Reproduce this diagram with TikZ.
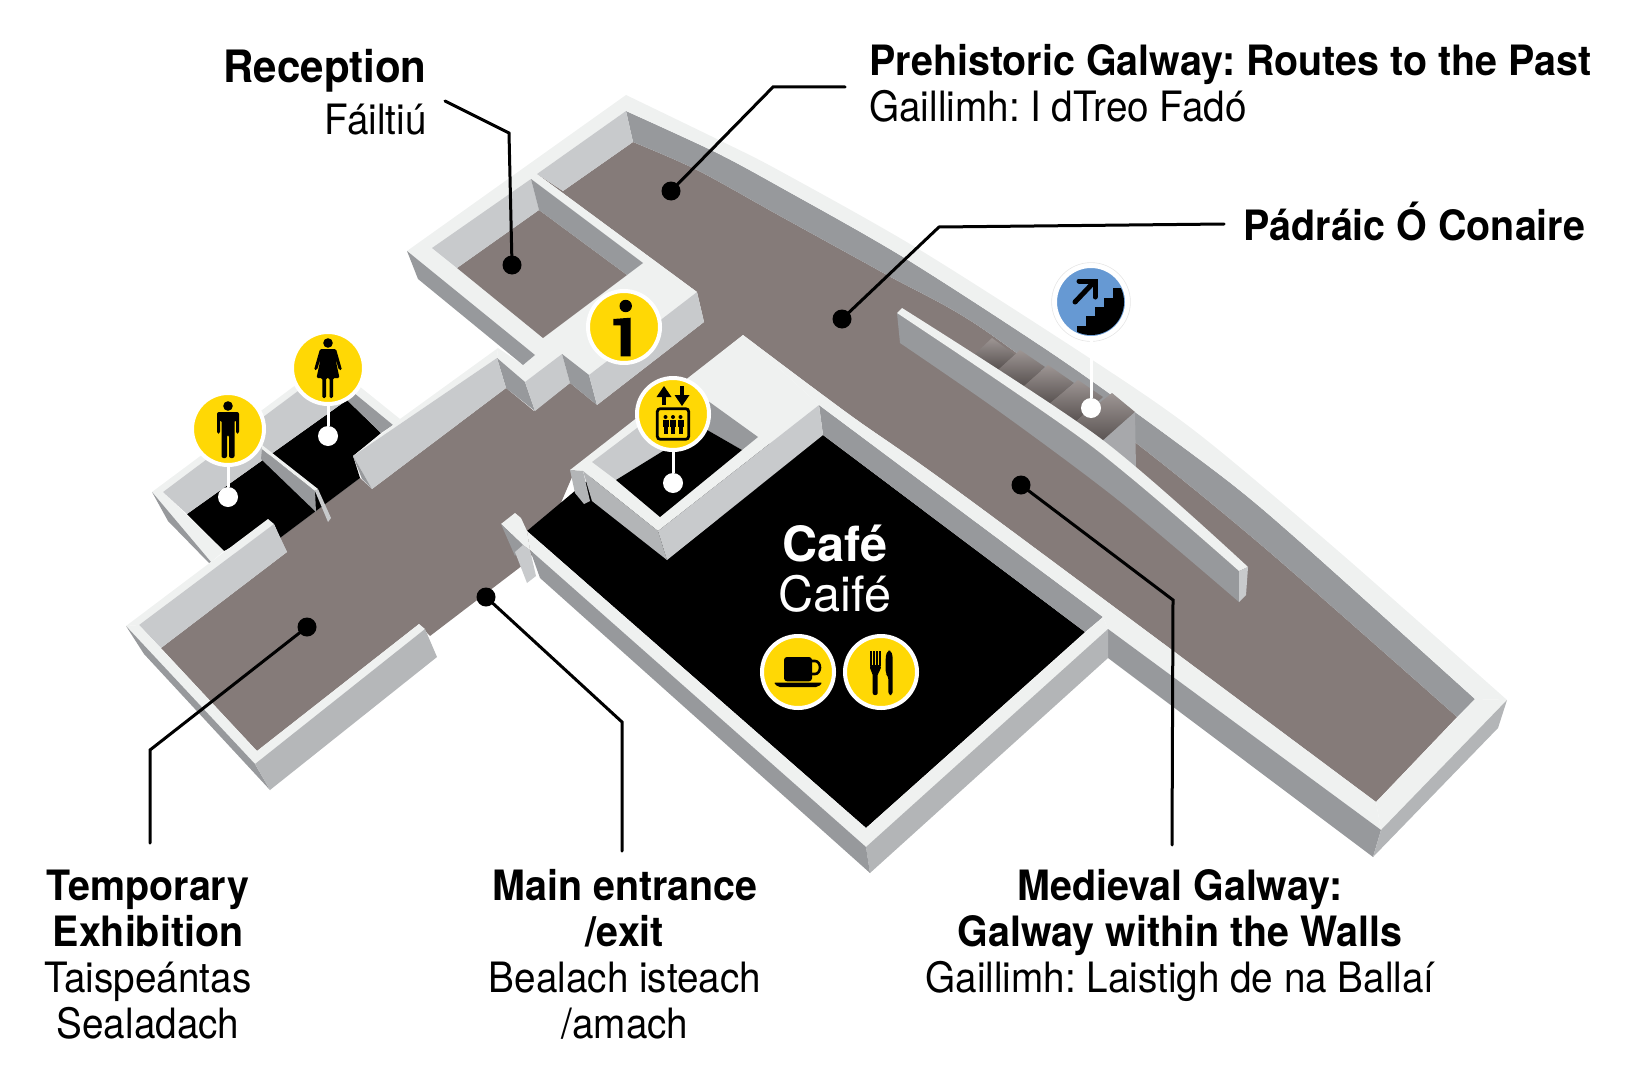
\documentclass[tikz,border=0pt]{standalone}
\usepackage{xcolor}
\usepackage{fontspec}
\setmainfont[FakeStretch=0.925, BoldFeatures={FakeStretch=0.943}]{TeX Gyre Heros}
\newfontfamily\cafefont{TeX Gyre Heros}
\definecolor{floorc}{HTML}{857B79}
\definecolor{topc}{HTML}{EFF1F0}
\definecolor{lightc}{HTML}{C8CACC}
\definecolor{darkc}{HTML}{97999C}
\definecolor{midc}{HTML}{B3B5B7}
\definecolor{signc}{HTML}{FFD805}
\definecolor{stairc}{HTML}{6699D3}
\tikzset{
    calldot/.style={circle, fill=black, inner sep=0pt, minimum size=9.5pt},
    pindot/.style={circle, fill=white, inner sep=0pt, minimum size=10pt},
    badge/.style={circle, fill=signc, draw=white, line width=2pt, inner sep=0pt, minimum size=36pt},
    callout/.style={draw=black, line width=1.5pt, line cap=round},
    pin/.style={draw=white, line width=1.5pt},
    caption/.style={font=\fontsize{20.9}{23}\selectfont, align=center, inner sep=0pt, execute at begin node=\strut},
    captionl/.style={caption, align=left},
    captionr/.style={caption, align=right},
}
\begin{document}
\frenchspacing
\begin{tikzpicture}[x=0.5pt, y=-0.5pt]
    \useasboundingbox (0, 0) rectangle (1626, 1081);

    % floors
    \fill[floorc] (161, 648) -- (287, 552) -- (280, 538) -- (360, 478) -- (372, 489) -- (506, 388) -- (534, 411) -- (570, 383) -- (597, 405) -- (704, 322) -- (697, 292) -- (537, 174)
        -- (563, 191) -- (633, 142) -- plot[smooth] coordinates {(633, 142) (697, 170) (780, 216) (887, 275) (980, 327) (1136, 443) (1267, 550) (1457, 717)}
        -- (1376, 802) -- plot[smooth] coordinates {(1376, 802) (970, 500) (850, 415) (743, 335)} -- (575, 470) -- (545, 540) -- (523, 565) -- (430, 636) -- (419, 624) -- (257, 751) -- cycle;
    \fill[black] (527, 531) -- (600, 470) -- (823, 435) -- (1085, 632) -- (866, 828) -- cycle;
    \fill[black] (187, 514) -- (347, 400) -- (381, 433) -- (353, 456) -- (360, 478) -- (280, 538) -- (274, 524) -- (224, 551) -- cycle;

    % long room, back wall and stairs
    \fill[darkc] (626, 111) -- (633, 142) -- plot[smooth] coordinates {(633, 142) (697, 170) (780, 216) (887, 275) (980, 327) (1136, 443) (1267, 550) (1457, 717)}
        -- (1475, 699) -- plot[smooth] coordinates {(1475, 699) (1307, 548) (1233, 485) (1135, 412) (1047, 350) (903, 257) (780, 187) (715, 152) (626, 111)} -- cycle;
    \fill[topc] (626, 95) -- plot[smooth] coordinates {(626, 95) (723, 142) (780, 171) (920, 250) (1100, 365) (1200, 435) (1337, 550) (1507, 700)}
        -- (1475, 699) -- plot[smooth] coordinates {(1475, 699) (1307, 548) (1233, 485) (1135, 412) (1047, 350) (903, 257) (780, 187) (715, 152) (626, 111)} -- cycle;
    \foreach \a/\b/\c/\d/\e/\f/\g/\h in {975/354/992/338/1015/355/998/370, 998/370/1020/350/1045/367/1023/387, 1023/387/1048/365/1074/383/1048/405,
        1048/405/1078/380/1103/397/1074/423, 1074/423/1112/393/1135/412/1100/443} {
        \shade[top color=floorc!80!white, bottom color=floorc!65!black]
            (\a, \b) -- (\c, \d) -- (\e, \f) -- (\g, \h) -- cycle;
    }
    \fill[darkc!85!white] (1100, 443) -- (1135, 412) -- (1136, 470) -- (1118, 500) -- cycle;

    % wall inside the long room
    \fill[darkc] (897, 313) -- (900, 343) -- plot[smooth] coordinates {(900, 343) (1000, 412) (1118, 500) (1239, 602)}
        -- (1239, 571) -- plot[smooth] coordinates {(1239, 571) (1090, 445) (897, 313)} -- cycle;
    \fill[topc] (897, 313) -- (902, 308) -- plot[smooth] coordinates {(902, 308) (1100, 438) (1248, 567)}
        -- (1239, 571) -- plot[smooth] coordinates {(1239, 571) (1090, 445) (897, 313)} -- cycle;
    \fill[lightc] (1239, 571) -- (1248, 567) -- (1246, 595) -- (1239, 602) -- cycle;

    % cafe walls
    \fill[darkc] (819, 405) -- (823, 435) -- (1085, 632) -- (1103, 617) -- cycle;
    \fill[topc] (743, 335) -- plot[smooth] coordinates {(743, 335) (850, 415) (970, 500) (1376, 802)} -- (1381, 830) -- (1108, 629) -- (1103, 617) -- (819, 405) -- cycle;
    \fill[topc] (1507, 700) -- (1475, 699) -- (1376, 802) -- (1381, 830) -- cycle;
    \fill[topc] (1103, 617) -- (1108, 629) -- (866, 847) -- (866, 828) -- cycle;
    \fill[topc] (527, 531) -- (866, 828) -- (866, 847) -- (530, 550) -- cycle;
    \fill[darkc] (1108, 629) -- (1108, 658) -- (1373, 857) -- (1381, 830) -- cycle;
    \fill[midc] (1381, 830) -- (1373, 857) -- (1498, 728) -- (1507, 700) -- cycle;
    \fill[midc] (1108, 629) -- (1108, 658) -- (870, 873) -- (866, 847) -- cycle;
    \fill[darkc] (530, 550) -- (540, 578) -- (870, 873) -- (866, 847) -- cycle;
    \fill[topc] (501, 524) -- (515, 513) -- (521, 518) -- (527, 531) -- (530, 550) -- (523, 545) -- cycle;
    \fill[darkc] (501, 524) -- (515, 556) -- (523, 545) -- cycle;
    \fill[lightc] (515, 552) -- (527, 583) -- (536, 576) -- (530, 550) -- (523, 545) -- cycle;

    % lift block
    \fill[topc] (743, 335) -- (570, 470) -- (583, 471) -- (658, 531) -- (819, 405) -- cycle;
    \fill[lightc] (592, 462) -- (690, 388) -- (702, 427) -- (616, 480) -- cycle;
    \fill[darkc] (690, 388) -- (758, 437) -- (742, 450) -- (702, 427) -- cycle;
    \fill[black] (616, 480) -- (702, 427) -- (742, 450) -- (660, 517) -- cycle;
    \fill[midc] (583, 471) -- (592, 501) -- (667, 560) -- (658, 531) -- cycle;
    \fill[lightc] (658, 531) -- (667, 560) -- (823, 435) -- (819, 405) -- cycle;
    \fill[midc] (570, 470) -- (575, 493) -- (584, 504) -- (590, 501) -- (583, 471) -- cycle;

    % reception block
    \fill[topc] (626, 95) -- (407, 251) -- (535, 355) -- (523, 365) -- (498, 348) -- (497, 358) -- (525, 382) -- (562, 354)
        -- (589, 375) -- (697, 292) -- (537, 174) -- (626, 111) -- cycle;
    \fill[lightc] (626, 111) -- (537, 174) -- (563, 191) -- (633, 142) -- cycle;
    \fill[floorc] (539, 210) -- (457, 268) -- (543, 338) -- (627, 275) -- cycle;
    \fill[lightc] (531, 179) -- (539, 210) -- (457, 268) -- (432, 248) -- cycle;
    \fill[darkc] (531, 179) -- (539, 210) -- (627, 275) -- (643, 263) -- cycle;
    \fill[darkc] (407, 251) -- (418, 279) -- (523, 365) -- (535, 355) -- cycle;
    \fill[darkc] (497, 358) -- (506, 388) -- (535, 411) -- (525, 382) -- cycle;
    \fill[lightc] (525, 382) -- (535, 411) -- (570, 383) -- (562, 354) -- cycle;
    \fill[darkc] (562, 354) -- (570, 383) -- (597, 405) -- (589, 375) -- cycle;
    \fill[lightc] (589, 375) -- (597, 405) -- (704, 322) -- (697, 292) -- cycle;

    % toilets
    \fill[topc] (152, 492) -- (328, 361) -- (400, 419) -- (393, 425) -- (326, 370) -- (163, 492) -- (224, 551) -- (211, 562) -- cycle;
    \fill[lightc] (163, 492) -- (326, 370) -- (347, 400) -- (187, 514) -- cycle;
    \fill[darkc] (326, 370) -- (393, 425) -- (381, 433) -- (347, 400) -- cycle;
    \fill[darkc] (152, 492) -- (168, 521) -- (209, 563) -- (211, 562) -- cycle;
    \fill[darkc] (261, 459) -- (316, 512) -- (315, 491) -- (262, 449) -- cycle;
    \fill[topc] (262, 445) -- (318, 489) -- (315, 491) -- (262, 449) -- cycle;
    \fill[lightc] (318, 489) -- (331, 518) -- (328, 522) -- (315, 491) -- cycle;

    % corridor walls
    \fill[topc] (400, 419) -- (498, 348) -- (497, 358) -- (353, 456) -- (393, 425) -- cycle;
    \fill[lightc] (353, 456) -- (497, 358) -- (506, 388) -- (372, 489) -- cycle;
    \fill[darkc] (353, 456) -- (362, 479) -- (372, 489) -- cycle;
    \fill[topc] (126, 626) -- (268, 519) -- (274, 524) -- (139, 625) -- cycle;
    \fill[lightc] (139, 625) -- (161, 648) -- (287, 552) -- (274, 524) -- cycle;
    \fill[topc] (126, 626) -- (139, 625) -- (257, 751) -- (419, 624) -- (425, 629) -- (255, 764) -- cycle;
    \fill[darkc] (126, 626) -- (144, 654) -- (270, 790) -- (255, 764) -- cycle;
    \fill[midc!90!lightc] (255, 764) -- (270, 790) -- (437, 657) -- (425, 629) -- cycle;

    % connectors
    \node[calldot] (receptionDot) at (512, 265) {};
    \node[calldot] (prehistoricDot) at (671, 191) {};
    \node[calldot] (conaireDot) at (842, 319) {};
    \node[calldot] (medievalDot) at (1021, 485) {};
    \node[calldot] (tempDot) at (307, 627) {};
    \node[calldot] (entranceDot) at (486, 597) {};
    \coordinate (receptionEnd) at (445, 101);
    \coordinate (receptionKnee) at (509, 133);
    \coordinate (prehistoricEnd) at (845, 87);
    \coordinate (prehistoricKnee) at (773, 87);
    \coordinate (conaireEnd) at (1224, 224);
    \coordinate (conaireKnee) at (939, 227);
    \coordinate (medievalKnee) at (1173, 600);
    \coordinate (medievalEnd) at (1172, 845);
    \coordinate (tempKnee) at (150, 750);
    \coordinate (tempEnd) at (150, 843);
    \coordinate (entranceKnee) at (622, 722);
    \coordinate (entranceEnd) at (622, 851);
    \draw[callout] (receptionEnd) -- (receptionKnee) -- (receptionDot.center);
    \draw[callout] (prehistoricEnd) -- (prehistoricKnee) -- (prehistoricDot.center);
    \draw[callout] (conaireEnd) -- (conaireKnee) -- (conaireDot.center);
    \draw[callout] (medievalEnd) -- (medievalKnee) -- (medievalDot.center);
    \draw[callout] (tempEnd) -- (tempKnee) -- (tempDot.center);
    \draw[callout] (entranceEnd) -- (entranceKnee) -- (entranceDot.center);

    % pins and badges
    \node[pindot] (manDot) at (228, 497) {};
    \node[pindot] (womanDot) at (328, 436) {};
    \node[pindot] (liftDot) at (673, 483) {};
    \node[pindot] (stairsDot) at (1091, 408) {};
    \node[badge] (manBadge) at (228, 429) {};
    \node[badge] (womanBadge) at (328, 368) {};
    \node[badge] (infoBadge) at (624, 327) {};
    \node[badge] (liftBadge) at (673, 414) {};
    \node[badge] (cupBadge) at (798, 672) {};
    \node[badge] (forkBadge) at (881, 672) {};
    \node[badge, fill=stairc] (stairsBadge) at (1091, 302) {};
    \draw[black!10, line width=0.3pt] (stairsBadge.center) circle (19.7pt);
    \draw[pin] (manBadge) -- (manDot);
    \draw[pin] (womanBadge) -- (womanDot);
    \draw[pin] (liftBadge) -- (liftDot);
    \draw[pin] (stairsBadge) -- (stairsDot);

    % man
    \begin{scope}[shift={(228, 429)}]
        \fill[black] (0, -23) circle (2.4pt);
        \fill[black, rounded corners=1pt] (-11, -17) -- (11, -17) -- (11, 4.5) -- (8, 4.5) -- (8, -9) -- (6.5, -9) -- (6.5, 29) -- (1, 29)
            -- (1, 6) -- (-1, 6) -- (-1, 29) -- (-6.5, 29) -- (-6.5, -9) -- (-8, -9) -- (-8, 4.5) -- (-11, 4.5) -- cycle;
    \end{scope}
    % woman
    \begin{scope}[shift={(328, 368)}]
        \fill[black] (0, -25) circle (2.4pt);
        \fill[black, rounded corners=0.7pt] (-8, -19) -- (8, -19) -- (14, 2) -- (11, 2) -- (7, -11) -- (11.5, 10) -- (5, 10) -- (5, 30) -- (1.5, 30)
            -- (1.5, 10) -- (-2, 10) -- (-2, 30) -- (-5.7, 30) -- (-5.7, 10) -- (-11.5, 10) -- (-7, -11) -- (-11, 2) -- (-14, 2) -- cycle;
    \end{scope}
    % info
    \begin{scope}[shift={(624, 327)}]
        \fill[black] (1.7, -21) circle (3.1pt);
        \fill[black] (-10.7, -8) -- (6.7, -9.3) -- (6.7, 29.3) -- (-3.3, 29.3) -- (-3.3, -1.7) -- (-10.7, -1.7) -- cycle;
    \end{scope}
    % lift
    \begin{scope}[shift={(673, 414)}]
        \draw[black, line width=1.4pt, rounded corners=1.5pt] (-15.7, -5.3) rectangle (15.7, 25.3);
        \draw[black, line width=2.3pt] (-9, -9) -- (-9, -20);
        \fill[black] (-16.5, -17) -- (-9, -28) -- (-1.5, -17) -- cycle;
        \draw[black, line width=2.3pt] (9, -28) -- (9, -17);
        \fill[black] (1.5, -19) -- (9, -8) -- (16.5, -19) -- cycle;
        \foreach \i in {-7.5, 0, 7.5} {
            \fill[black] (\i, 3) circle (1pt);
            \fill[black] (\i-3, 5.5) rectangle (\i+3, 13);
            \fill[black] (\i-2, 13) rectangle (\i+2, 20);
        }
    \end{scope}
    % cup
    \begin{scope}[shift={(798, 672)}]
        \draw[black, line width=1.3pt] (12, -11) -- (17, -11) arc (-90:90:5 and 6.5) -- (12, 2);
        \fill[black, rounded corners=1.5pt] (-14, -15) -- (-14, 9.3) -- (14, 9.3) -- (14, -15) -- cycle;
        \fill[black, rounded corners=1pt] (-24.5, 10.5) -- (24.5, 10.5) -- (20, 15) -- (-20, 15) -- cycle;
    \end{scope}
    % fork and knife
    \begin{scope}[shift={(881, 672)}]
        \foreach \i in {-11, -8, -5, -2} {
            \fill[black] (\i, -21.5) rectangle (\i+1.8, -6);
        }
        \fill[black, rounded corners=1pt] (-11, -7) -- (-0.2, -7) -- (-0.2, -2) -- (-3.3, 1) -- (-3.3, 23) -- (-8.3, 23) -- (-8.3, 1) -- (-11, -2) -- cycle;
        \fill[black, rounded corners=1.5pt] (4.7, -16) -- (6.5, -21.5) -- (10, -21.5) -- (11.7, -16) -- (11.7, 23) -- (7.3, 23) -- (7.3, 4) -- (4.7, 2) -- cycle;
    \end{scope}
    % stairs
    \begin{scope}[shift={(1091, 302)}]
        \begin{scope}
            \clip (0, 0) circle (16.5pt);
            \fill[black] (34, -14) -- (22, -14) -- (22, -4) -- (13, -4) -- (13, 5) -- (4, 5) -- (4, 14) -- (-5, 14) -- (-5, 24) -- (-14, 24)
                -- (-14, 40) -- (40, 40) -- cycle;
        \end{scope}
        \draw[black, line width=2.5pt, line cap=round, line join=miter] (-16, 0) -- (3, -20);
        \draw[black, line width=2.5pt, line cap=round, line join=miter] (-12, -21) -- (4, -21) -- (4, -5);
    \end{scope}

    % labels
    \node[captionr, anchor=north east] (receptionLabel) at (427, 48.8) {\fontsize{22.3}{23}\selectfont\textbf{Reception}\\[3pt]Fáiltiú};
    \node[captionl, anchor=north west] (prehistoricLabel) at (869, 44.4) {\textbf{Prehistoric Galway: Routes to the Past}\\Gaillimh: I dTreo Fadó};
    \node[captionl, anchor=north west] (conaireLabel) at (1243, 202) {\textbf{Pádráic Ó Conaire}};
    \node[caption, anchor=north] (tempLabel) at (148, 870) {\textbf{Temporary}\\\textbf{Exhibition}\\Taispeántas\\Sealadach};
    \node[caption, anchor=north] (entranceLabel) at (625, 869) {\textbf{Main entrance}\\\textbf{/exit}\\Bealach isteach\\/amach};
    \node[caption, anchor=north] (medievalLabel) at (1180, 869) {\textbf{Medieval Galway:}\\\textbf{Galway within the Walls}\\Gaillimh: Laistigh de na Ballaí};
    \node[caption, font=\fontsize{24.3}{25}\cafefont, text=white, anchor=north] (cafeLabel) at (835, 525) {\textbf{Café}\\Caifé};
\end{tikzpicture}
\end{document}
